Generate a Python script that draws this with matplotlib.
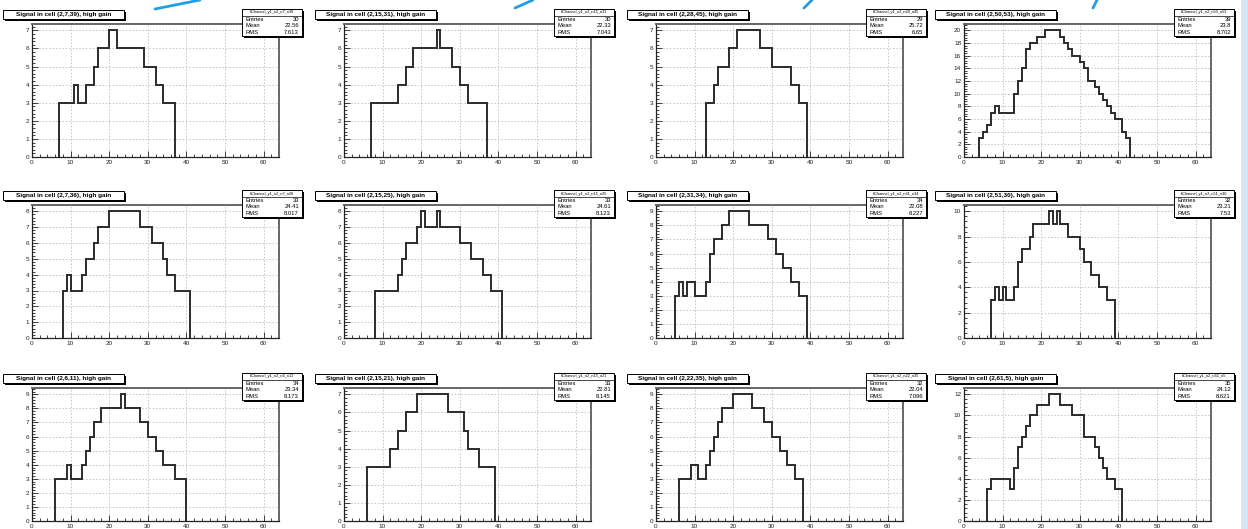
import numpy as np
import matplotlib
matplotlib.use('Agg')
import matplotlib.pyplot as plt
from matplotlib.patches import Rectangle
from matplotlib.lines import Line2D
from matplotlib.ticker import MultipleLocator

plt.rcParams['font.family'] = ['Liberation Sans', 'DejaVu Sans']

W, H = 1248, 529   # canvas in pixels

# --- data (bin width 1, range 0..64) ---
cells = [(2, 7, 39), (2, 15, 31), (2, 28, 45), (2, 50, 53),
         (2, 7, 36), (2, 15, 25), (2, 31, 34), (2, 51, 30),
         (2, 6, 11), (2, 15, 21), (2, 22, 35), (2, 61, 5)]
first_bin = [7, 7, 13, 4, 8, 8, 5, 7, 6, 6, 6, 6]

counts_1 = [3, 3, 3, 3, 4, 3, 3, 4, 4, 5, 6, 6, 6, 7, 7, 6, 6, 6, 6, 6, 6, 6, 5, 5, 5, 4, 4, 3, 3, 3]
counts_2 = [3, 3, 3, 3, 3, 3, 3, 4, 4, 5, 5, 6, 6, 6, 6, 6, 6, 7, 6, 6, 6, 5, 5, 4, 4, 3, 3, 3, 3, 3]
counts_3 = [3, 3, 4, 5, 5, 5, 6, 6, 7, 7, 7, 7, 7, 7, 6, 6, 6, 5, 5, 5, 5, 5, 4, 4, 3, 3]
counts_4 = [3, 4, 5, 7, 8, 7, 7, 7, 7, 10, 12, 14, 17, 18, 18, 19, 19, 20, 20, 20, 20, 19, 18, 17,
            16, 16, 15, 14, 12, 12, 11, 10, 9, 8, 7, 6, 6, 4, 3]
counts_5 = [3, 4, 3, 3, 3, 4, 5, 5, 6, 7, 7, 7, 8, 8, 8, 8, 8, 8, 8, 8, 7, 7, 7, 6, 6, 6, 5, 4, 4, 3, 3, 3, 3]
counts_6 = [3, 3, 3, 3, 3, 3, 4, 5, 6, 6, 6, 7, 8, 7, 7, 7, 8, 7, 7, 7, 7, 7, 6, 6, 6, 5, 5, 5, 4, 4, 3, 3, 3]
counts_7 = [3, 4, 3, 4, 4, 3, 3, 3, 4, 6, 7, 7, 8, 8, 9, 9, 9, 9, 9, 8, 8, 8, 8, 8, 7, 7, 6, 6, 5, 5, 4, 4, 3, 3]
counts_8 = [3, 4, 3, 4, 3, 3, 4, 6, 7, 7, 8, 9, 9, 9, 9, 10, 9, 10, 9, 9, 8, 8, 8, 7, 6, 6, 5, 5, 4, 4, 3, 3]
counts_9 = [3, 3, 3, 4, 3, 3, 3, 4, 5, 6, 7, 7, 8, 8, 8, 8, 8, 9, 8, 8, 8, 8, 7, 7, 6, 6, 5, 5, 4, 4, 4, 3, 3, 3]
counts_10 = [3, 3, 3, 3, 3, 3, 4, 4, 5, 5, 6, 6, 6, 7, 7, 7, 7, 7, 7, 7, 7, 6, 6, 6, 6, 5, 4, 4, 4, 3, 3, 3, 3]
counts_11 = [3, 3, 3, 4, 4, 3, 3, 4, 5, 6, 7, 8, 8, 8, 9, 9, 9, 9, 9, 8, 8, 8, 7, 7, 6, 6, 5, 5, 4, 4, 3, 3]
counts_12 = [3, 4, 4, 4, 4, 4, 3, 5, 7, 8, 9, 10, 10, 11, 11, 11, 12, 12, 12, 11, 11, 11, 10, 10, 10,
             8, 8, 8, 7, 6, 5, 4, 4, 3, 3]
all_counts = [counts_1, counts_2, counts_3, counts_4, counts_5, counts_6,
              counts_7, counts_8, counts_9, counts_10, counts_11, counts_12]

entries = [30, 30, 29, 39, 33, 33, 34, 32, 34, 33, 32, 35]
means = ['22.56', '22.33', '25.72', '23.8', '24.41', '24.61',
         '22.08', '23.21', '23.34', '22.81', '22.04', '24.12']
rms = ['7.613', '7.043', '6.65', '8.702', '8.017', '8.123',
       '8.227', '7.53', '8.173', '8.145', '7.096', '8.621']

# layout of the scanned page (pixels)
col_left = [32, 344, 656, 964]
row_top = [24, 205, 388]
ax_w, ax_h = 247, 133

fig = plt.figure(figsize=(W / 100, H / 100), dpi=100)
fig.patch.set_facecolor('white')


def fx(x):
    return x / W


def fy(y):
    return 1 - y / H


def pave(x0, y0, x1, y1, shadow=2):
    # ROOT style box with a dark shadow bottom-right
    fig.add_artist(Rectangle((fx(x0 + shadow), fy(y1 + shadow)), fx(x1 - x0), (y1 - y0) / H,
                             transform=fig.transFigure, facecolor='black', edgecolor='none', zorder=5))
    fig.add_artist(Rectangle((fx(x0), fy(y1)), fx(x1 - x0), (y1 - y0) / H,
                             transform=fig.transFigure, facecolor='white', edgecolor='black',
                             lw=0.7, zorder=6))


for i in range(12):
    r, c = divmod(i, 4)
    left, top = col_left[c], row_top[r]
    ax = fig.add_axes([fx(left), fy(top + ax_h), fx(ax_w), ax_h / H])

    vals = all_counts[i]
    edges = np.arange(first_bin[i], first_bin[i] + len(vals) + 1)
    ax.stairs(vals, edges, baseline=0, color='#2b2b2b', lw=1.4, zorder=3)

    top_val = max(vals)
    ax.set_xlim(0, 64)
    ax.set_ylim(0, top_val * 1.05)
    step = 1 if top_val < 10 else 2
    ax.yaxis.set_major_locator(MultipleLocator(step))
    ax.yaxis.set_minor_locator(MultipleLocator(step / 5))
    ax.xaxis.set_major_locator(MultipleLocator(10))
    ax.xaxis.set_minor_locator(MultipleLocator(2))
    ax.set_xticks(range(0, 61, 10))

    ax.tick_params(which='both', direction='in', width=0.6, labelsize=4.6, pad=2, colors='#222222')
    ax.tick_params(which='major', length=4)
    ax.tick_params(which='minor', length=2)
    ax.grid(True, which='major', ls=(0, (2, 2)), color='#c0c0c0', lw=0.6)

    for s in ['left', 'bottom']:
        ax.spines[s].set_color('#222222')
        ax.spines[s].set_linewidth(0.9)
    for s in ['top', 'right']:
        ax.spines[s].set_color('#666666')
        ax.spines[s].set_linewidth(1.4)

    # title pave
    tx0, tx1 = left - 29, left + 92
    ty1 = top - 5
    ty0 = ty1 - 9
    pave(tx0, ty0, tx1, ty1)
    a, b, cc = cells[i]
    fig.text(fx((tx0 + tx1) / 2), fy((ty0 + ty1) / 2),
             'Signal in cell (%d,%d,%d), high gain' % (a, b, cc),
             ha='center', va='center', fontsize=4.6, fontweight='bold', zorder=7)

    # stats pave
    sx0, sx1 = left + ax_w - 37, left + ax_w + 23
    sy0, sy1 = top - 15, top + 12
    pave(sx0, sy0, sx1, sy1)
    fig.add_artist(Line2D([fx(sx0), fx(sx1)], [fy(sy0 + 7), fy(sy0 + 7)],
                          transform=fig.transFigure, color='black', lw=0.5, zorder=7))
    fig.text(fx((sx0 + sx1) / 2), fy(sy0 + 3.5), 'hChannel_y1_n%d_n%d_n%d' % (a, b, cc),
             ha='center', va='center', fontsize=2.8, zorder=7)
    rows = [('Entries', str(entries[i])), ('Mean', means[i]), ('RMS', rms[i])]
    for k, (lab, v) in enumerate(rows):
        yy = sy0 + 10.5 + k * 6.3
        fig.text(fx(sx0 + 3), fy(yy), lab, ha='left', va='center', fontsize=4.2, zorder=7)
        fig.text(fx(sx1 - 3), fy(yy), v, ha='right', va='center', fontsize=4.2, zorder=7)

# blue pen strokes along the top edge of the page and the strip at the right
for (x0, y0, x1, y1) in [(155, 9, 200, 0), (515, 8, 533, 0), (804, 8, 812, 0), (1093, 8, 1097, 0)]:
    fig.add_artist(Line2D([fx(x0), fx(x1)], [fy(y0), fy(y1)], transform=fig.transFigure,
                          color='#1f9fe3', lw=2.0, solid_capstyle='round', zorder=8))
fig.add_artist(Rectangle((fx(1241), 0), fx(7), 1, transform=fig.transFigure,
                         facecolor='#d3e5f1', edgecolor='none', zorder=8))

fig.savefig('out.png', dpi=100, facecolor='white')
